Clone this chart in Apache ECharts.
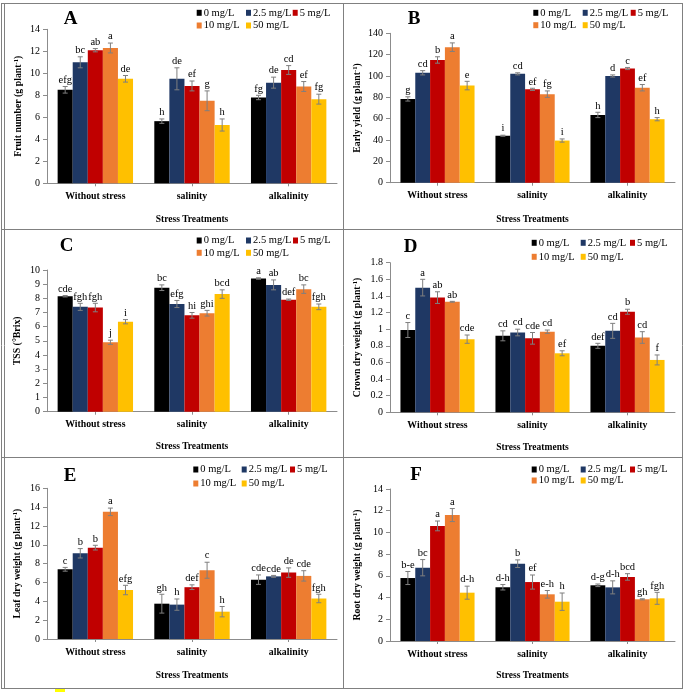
<!DOCTYPE html>
<html>
<head>
<meta charset="utf-8">
<script src="https://cdn.jsdelivr.net/npm/echarts@6/dist/echarts.min.js"></script>
<style>
html,body{margin:0;padding:0;background:#fff;}
#chart{width:685px;height:692px;}
</style>
</head>
<body>
<div id="chart"></div>
<script>
// ---------- DATA ----------
const categories = ['Without stress', 'salinity', 'alkalinity'];
const seriesNames = ['0 mg/L', '2.5 mg/L', '5 mg/L', '10 mg/L', '50 mg/L'];

// values indexed [series][category]
const fruitNumber = [[8.5, 5.65, 7.8], [11.0, 9.5, 9.15], [12.1, 8.85, 10.3], [12.3, 7.5, 8.8], [9.5, 5.3, 7.65]];
const fruitNumberErr = [[0.3, 0.2, 0.2], [0.5, 1.0, 0.5], [0.15, 0.45, 0.4], [0.45, 0.9, 0.45], [0.3, 0.55, 0.45]];
const fruitNumberLetters = [['efg', 'h', 'fg'], ['bc', 'de', 'de'], ['ab', 'ef', 'cd'], ['a', 'g', 'ef'], ['de', 'h', 'fg']];

const earlyYield = [[78.5, 44, 63.5], [103, 102, 100], [115, 87.5, 107], [127, 83, 89], [91, 39.5, 59.5]];
const earlyYieldErr = [[2, 0.5, 2.5], [2, 1, 1], [3, 1, 1], [4, 3, 3], [4, 1.5, 1.5]];
const earlyYieldLetters = [['g', 'i', 'h'], ['cd', 'cd', 'd'], ['b', 'ef', 'c'], ['a', 'fg', 'ef'], ['e', 'i', 'h']];

const tss = [[8.15, 8.75, 9.4], [7.4, 7.6, 8.95], [7.35, 6.8, 7.9], [4.9, 6.95, 8.65], [6.35, 8.3, 7.4]];
const tssErr = [[0.05, 0.2, 0.05], [0.25, 0.25, 0.35], [0.3, 0.2, 0.05], [0.15, 0.2, 0.3], [0.15, 0.3, 0.2]];
const tssLetters = [['cde', 'bc', 'a'], ['fgh', 'efg', 'ab'], ['fgh', 'hi', 'def'], ['j', 'ghi', 'bc'], ['i', 'bcd', 'fgh']];

const crownDry = [[0.99, 0.92, 0.80], [1.50, 0.96, 0.98], [1.38, 0.89, 1.21], [1.33, 0.97, 0.90], [0.88, 0.71, 0.63]];
const crownDryErr = [[0.09, 0.06, 0.03], [0.1, 0.04, 0.09], [0.07, 0.07, 0.03], [0.005, 0.02, 0.07], [0.05, 0.03, 0.06]];
const crownDryLetters = [['c', 'cd', 'def'], ['a', 'cd', 'cd'], ['ab', 'cde', 'b'], ['ab', 'cd', 'cd'], ['cde', 'ef', 'f']];

const leafDry = [[7.4, 3.75, 6.3], [9.1, 3.65, 6.65], [9.7, 5.5, 7.05], [13.5, 7.3, 6.7], [5.2, 2.9, 4.3]];
const leafDryErr = [[0.2, 1.0, 0.5], [0.5, 0.6, 0.1], [0.25, 0.25, 0.5], [0.4, 0.85, 0.55], [0.5, 0.55, 0.45]];
const leafDryLetters = [['c', 'gh', 'cde'], ['b', 'h', 'cde'], ['b', 'def', 'de'], ['a', 'c', 'cde'], ['efg', 'h', 'fgh']];

const rootDry = [[5.8, 4.95, 5.13], [6.75, 7.12, 4.94], [10.6, 5.43, 5.9], [11.6, 4.3, 3.84], [4.45, 3.62, 3.93]];
const rootDryErr = [[0.6, 0.25, 0.12], [0.75, 0.35, 0.6], [0.45, 0.65, 0.3], [0.6, 0.35, 0.05], [0.6, 0.8, 0.55]];
const rootDryLetters = [['b-e', 'd-h', 'd-g'], ['bc', 'b', 'd-h'], ['a', 'ef', 'bcd'], ['a', 'e-h', 'gh'], ['d-h', 'h', 'fgh']];

const panelLetters = ['A', 'B', 'C', 'D', 'E', 'F'];
const yAxisNames = [
  'Fruit number (g plant{sup|-1})',
  'Early yield (g plant{sup|-1})',
  'TSS (°Brix)',
  'Crown dry weight (g plant{sup|-1})',
  'Leaf dry weight (g plant{sup|-1})',
  'Root dry weight (g plant{sup|-1})'
];
const yMax = [14, 140, 10, 1.8, 16, 14];
const yInterval = [2, 20, 1, 0.2, 2, 2];
const xAxisName = 'Stress Treatments';

// ---------- STYLE / LAYOUT ----------
const colors = ['#000000', '#1F3864', '#C00000', '#ED7D31', '#FFC000'];
const serif = '"Liberation Serif", "Times New Roman", serif';
const barCatGap = 0.22;

const panelData = [
  [fruitNumber, fruitNumberErr, fruitNumberLetters],
  [earlyYield, earlyYieldErr, earlyYieldLetters],
  [tss, tssErr, tssLetters],
  [crownDry, crownDryErr, crownDryLetters],
  [leafDry, leafDryErr, leafDryLetters],
  [rootDry, rootDryErr, rootDryLetters]
];

const layout = [
  {grid: {left: 47, top: 29.3, width: 290, height: 154}, yGap: 24, xGap: 31.5, letter: [70.7, 19],
   legX: [196.7, 246, 292.7], legY: [13.3, 26]},
  {grid: {left: 390, top: 33.3, width: 285, height: 149.4}, yGap: 28, xGap: 32, letter: [414, 19],
   legX: [533.3, 582.7, 630.7], legY: [13.3, 25.7]},
  {grid: {left: 47, top: 270, width: 290, height: 141.7}, yGap: 25, xGap: 30, letter: [66.7, 245.7],
   legX: [196.7, 246, 293], legY: [241, 253.3]},
  {grid: {left: 390, top: 262.7, width: 285, height: 149.6}, yGap: 28, xGap: 30, letter: [410.7, 246.7],
   legX: [531.7, 580.7, 630], legY: [243.3, 257.3]},
  {grid: {left: 47, top: 488.3, width: 290, height: 150.7}, yGap: 25, xGap: 32, letter: [70, 475.7],
   legX: [193.3, 241.7, 290], legY: [470, 484]},
  {grid: {left: 390, top: 489, width: 285, height: 152}, yGap: 28, xGap: 30, letter: [416, 475],
   legX: [531.7, 580.7, 630], legY: [470, 481]}
];

const grids = [], xAxes = [], yAxes = [], series = [], legends = [], graphics = [];

layout.forEach((L, p) => {
  grids.push(Object.assign({containLabel: false}, L.grid));
  xAxes.push({
    type: 'category', gridIndex: p, data: categories,
    name: xAxisName, nameLocation: 'middle', nameGap: L.xGap,
    nameTextStyle: {fontFamily: serif, fontWeight: 'bold', fontSize: 9.5, color: '#000'},
    axisLine: {lineStyle: {color: '#8c8c8c', width: 1}},
    axisTick: {show: true, alignWithLabel: true, length: 3, lineStyle: {color: '#8c8c8c'}},
    axisLabel: {fontFamily: serif, fontWeight: 'bold', fontSize: 9.8, color: '#000', margin: 8}
  });
  yAxes.push({
    type: 'value', gridIndex: p, min: 0, max: yMax[p], interval: yInterval[p],
    name: yAxisNames[p], nameLocation: 'middle', nameGap: L.yGap, nameRotate: 90,
    nameTextStyle: {fontFamily: serif, fontWeight: 'bold', fontSize: 9.8, color: '#000',
      rich: {sup: {fontFamily: serif, fontWeight: 'bold', fontSize: 6.5, color: '#000', verticalAlign: 'top', lineHeight: 10}}},
    axisLine: {show: true, lineStyle: {color: '#8c8c8c', width: 1}},
    axisTick: {show: true, length: 4, lineStyle: {color: '#8c8c8c'}},
    splitLine: {show: false},
    axisLabel: {fontFamily: serif, fontSize: 10, color: '#000', margin: 7}
  });

  const [vals, errs, lets] = panelData[p];
  for (let s = 0; s < 5; s++) {
    series.push({
      type: 'bar', name: seriesNames[s], xAxisIndex: p, yAxisIndex: p,
      data: vals[s], barGap: '0%', barCategoryGap: (barCatGap * 100) + '%',
      itemStyle: {color: colors[s]}, emphasis: {disabled: true}, animation: false
    });
  }
  for (let s = 0; s < 5; s++) {
    const data = categories.map((c, i) => [i, vals[s][i], errs[s][i]]);
    series.push({
      type: 'custom', xAxisIndex: p, yAxisIndex: p, z: 5, animation: false, clip: false,
      data: data,
      encode: {x: 0, y: 1},
      renderItem: function (params, api) {
        const ci = api.value(0), v = api.value(1), e = api.value(2);
        const band = api.size([1, 0])[0];
        const bw = band * (1 - barCatGap) / 5;
        const cx = api.coord([ci, v])[0] + (s - 2) * bw;
        const yT = api.coord([ci, v + e])[1];
        const yB = api.coord([ci, v - e])[1];
        const st = {stroke: '#7f7f7f', lineWidth: 1};
        return {
          type: 'group',
          children: [
            {type: 'line', shape: {x1: cx, y1: yT, x2: cx, y2: yB}, style: st},
            {type: 'line', shape: {x1: cx - 2.5, y1: yT, x2: cx + 2.5, y2: yT}, style: st},
            {type: 'line', shape: {x1: cx - 2.5, y1: yB, x2: cx + 2.5, y2: yB}, style: st},
            {type: 'text', style: {text: lets[s][params.dataIndex], x: cx, y: yT - 1,
              align: 'center', verticalAlign: 'bottom', fontFamily: serif, fontSize: 10.5, fill: '#000'}}
          ]
        };
      }
    });
  }

  seriesNames.forEach((nm, k) => {
    const row = k < 3 ? 0 : 1;
    const col = k < 3 ? k : k - 3;
    legends.push({
      left: L.legX[col], top: L.legY[row] - 6, padding: 0, orient: 'horizontal',
      icon: 'rect', itemWidth: 5, itemHeight: 6, selectedMode: false,
      data: [nm],
      textStyle: {fontFamily: serif, fontSize: 10.5, color: '#000', padding: [0, 0, 0, -3]}
    });
  });

  graphics.push({
    type: 'text', x: L.letter[0], y: L.letter[1],
    style: {text: panelLetters[p], align: 'center', verticalAlign: 'middle',
      fontFamily: serif, fontWeight: 'bold', fontSize: 19, fill: '#000'}
  });
});

// frame lines
const frame = {stroke: '#808080', lineWidth: 1};
[
  [1.5, 3, 1.5, 688], [4.5, 3, 4.5, 688], [682.5, 3, 682.5, 688], [343.5, 3, 343.5, 688],
  [1, 3.5, 683, 3.5], [1, 229.5, 683, 229.5], [1, 457.5, 683, 457.5], [1, 688.5, 683, 688.5]
].forEach(l => graphics.push({type: 'line', shape: {x1: l[0], y1: l[1], x2: l[2], y2: l[3]}, style: frame, silent: true}));
graphics.push({type: 'rect', shape: {x: 55, y: 689, width: 10, height: 3}, style: {fill: '#ffff00'}, silent: true});

const chart = echarts.init(document.getElementById('chart'), null, {renderer: 'canvas'});
chart.setOption({
  backgroundColor: '#ffffff',
  animation: false,
  grid: grids, xAxis: xAxes, yAxis: yAxes,
  legend: legends, series: series, graphic: graphics
});
</script>
</body>
</html>
